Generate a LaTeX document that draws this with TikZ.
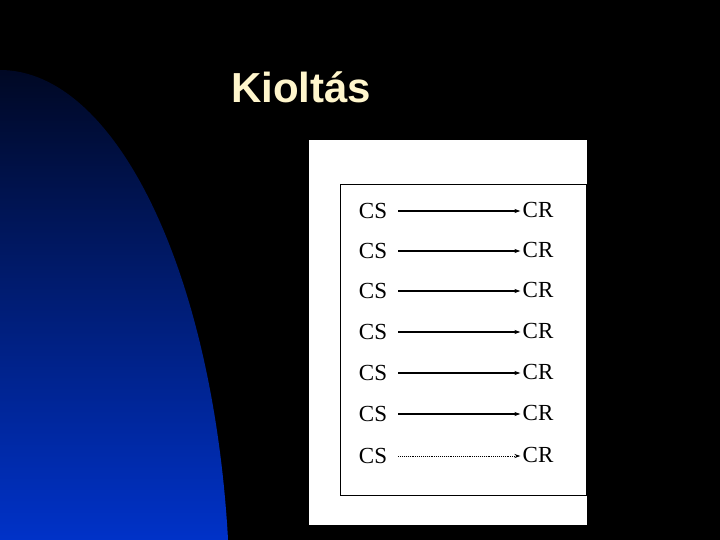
\documentclass[tikz,border=0pt]{standalone}
\usepackage{fontspec}
\setmainfont{Liberation Serif}
\newfontfamily\titlefont{Liberation Sans}
\usetikzlibrary{arrows.meta}
\definecolor{titlecream}{RGB}{255,246,204}
\definecolor{navytop}{RGB}{0,8,36}
\definecolor{navymid}{RGB}{0,36,150}
\definecolor{bluebot}{RGB}{0,50,200}
\tikzset{
  cslabel/.style={inner sep=1pt, font=\fontsize{23}{23}\selectfont, text=black},
  crlabel/.style={inner sep=1pt, font=\fontsize{23}{23}\selectfont, text=black},
  link/.style={line width=1.6pt, -{Stealth[length=6pt,width=4pt]}, shorten <=10pt, shorten >=1pt},
}
\begin{document}
\begin{tikzpicture}[x=1pt,y=-1pt]
\useasboundingbox (0,0) rectangle (720,540);
\fill[black] (0,0) rectangle (720,540);
% blue shape
\shade[top color=navytop, middle color=navymid, bottom color=bluebot]
  (0,70) arc[start angle=90, end angle=7.45, x radius=230, y radius=-540] -- (0,540) -- cycle;
% title
\node[anchor=base west, inner sep=0pt, text=titlecream, font=\titlefont\bfseries\fontsize{42}{42}\selectfont] (title) at (231,103) {Kiolt\'as};
% scanned sheet
\fill[white] (309,140) rectangle (587,525);
\draw[line width=1pt] (340,185) rectangle (586,495);
% rows
\foreach \i/\y in {1/211,2/251,3/291,4/332,5/373,6/414,7/456}{
  \node[cslabel] (cs\i) at (373,\y) {CS};
  \node[crlabel] (cr\i) at (538,\y-1) {CR};
}
\foreach \i in {1,...,6}{
  \draw[link] (cs\i.east) -- (cs\i.east -| cr\i.west);
}
\draw[link, line width=0.9pt, densely dotted] (cs7.east) -- (cs7.east -| cr7.west);
\end{tikzpicture}
\end{document}
